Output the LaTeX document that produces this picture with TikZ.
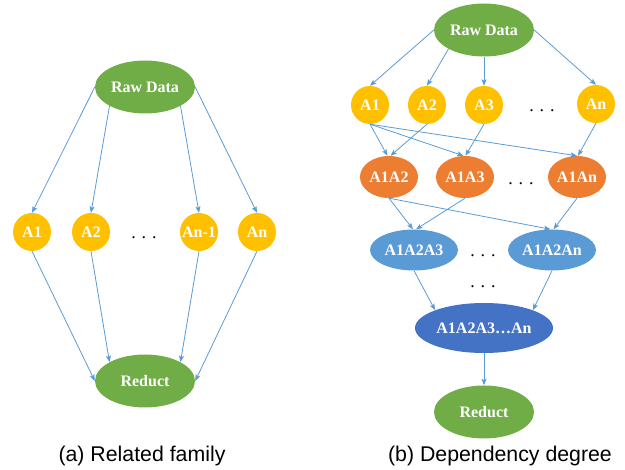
\documentclass[tikz,border=0pt]{standalone}
\usepackage{fontspec}
\setmainfont{Liberation Serif}
\newfontfamily\capfont{Liberation Sans}
\usetikzlibrary{shapes.geometric,arrows.meta}
\definecolor{cgreen}{HTML}{70AD47}
\definecolor{cgold}{HTML}{FFC000}
\definecolor{corange}{HTML}{ED7D31}
\definecolor{clblue}{HTML}{5B9BD5}
\definecolor{cdblue}{HTML}{4472C4}
\definecolor{carrow}{HTML}{5B9BD5}
\begin{document}
\begin{tikzpicture}[x=1pt,y=-1pt,
  nd/.style={inner sep=0pt,text=white,font=\fontsize{16}{18}\selectfont\bfseries},
  grn/.style={nd,ellipse,fill=cgreen,minimum width=100pt,minimum height=53pt},
  att/.style={nd,circle,fill=cgold,minimum size=38pt},
  org/.style={nd,ellipse,fill=corange,minimum width=58pt,minimum height=42pt},
  lbl/.style={nd,ellipse,fill=clblue,minimum width=88pt,minimum height=41pt},
  dbl/.style={nd,ellipse,fill=cdblue,minimum width=138pt,minimum height=50pt},
  dotsn/.style={anchor=base,inner sep=0pt,font=\fontsize{18}{20}\selectfont},
  captxt/.style={anchor=base,inner sep=0pt,font=\capfont\fontsize{21.3}{24}\selectfont},
  arr/.style={draw=carrow,line width=0.8pt,-{Stealth[length=6.5pt,width=5pt,inset=1.5pt]}}
]
\useasboundingbox (0,0) rectangle (625,470);

% ---------- left panel ----------
\node[grn] (lraw) at (145,87) {Raw Data};
\node[att] (la1) at (32,232) {A1};
\node[att] (la2) at (91,232) {A2};
\node[att] (lan1) at (199,232) {An-1};
\node[att] (lan) at (257,232) {An};
\node[dotsn] (ldots) at (144,239) {. . .};
\node[grn] (lred) at (145,381) {Reduct};

\draw[arr] (lraw.west) -- (la1.north);
\draw[arr] (lraw.south west) -- (la2.north);
\draw[arr] (lraw.south east) -- (lan1.north);
\draw[arr] (lraw.east) -- (lan.north);
\draw[arr] (la1.south) -- (lred.west);
\draw[arr] (la2.south) -- (lred.north west);
\draw[arr] (lan1.south) -- (lred.north east);
\draw[arr] (lan.south) -- (lred.east);

\node[captxt] (capa) at (142,462) {(a) Related family};

% ---------- right panel ----------
\node[grn] (rraw) at (484,30) {Raw Data};
\node[att] (ra1) at (370,105) {A1};
\node[att] (ra2) at (427,105) {A2};
\node[att] (ra3) at (484,105) {A3};
\node[dotsn] (rd1) at (542,112) {. . .};
\node[att] (ran) at (596,104) {An};

\node[org] (r12) at (389,177) {A1A2};
\node[org] (r13) at (465,177) {A1A3};
\node[dotsn] (rd2) at (521,185) {. . .};
\node[org] (r1n) at (577,177) {A1An};

\node[lbl] (r123) at (414,250) {A1A2A3};
\node[dotsn] (rd3) at (483,257) {. . .};
\node[lbl] (r12n) at (552,250) {A1A2An};
\node[dotsn] (rd4) at (483,288) {. . .};

\node[dbl] (rall) at (484,328) {A1A2A3…An};
\node[grn] (rred) at (484,412) {Reduct};

\draw[arr] (rraw.west) -- (ra1.north);
\draw[arr] (rraw.south west) -- (ra2.north);
\draw[arr] (rraw.south) -- (ra3.north);
\draw[arr] (rraw.east) -- (ran.north);

\draw[arr] (ra1.south) -- ([xshift=-1.5pt]r12.north);
\draw[arr] (ra2.south) -- ([xshift=1.5pt]r12.north);
\draw[arr] (ra1.south) -- ([xshift=-1.5pt]r13.north);
\draw[arr] (ra3.south) -- ([xshift=0.5pt]r13.north);
\draw[arr] (ra1.south) -- (r1n.north);
\draw[arr] (ran.south) -- ([xshift=1pt]r1n.north);

\draw[arr] (r12.south) -- ([xshift=-1pt]r123.north);
\draw[arr] (r13.south) -- ([xshift=2pt]r123.north);
\draw[arr] (r12.south) -- ([xshift=-1.5pt]r12n.north);
\draw[arr] (r1n.south) -- ([xshift=1.5pt]r12n.north);

\draw[arr] (r123.south) -- (rall.north west);
\draw[arr] (r12n.south) -- (rall.north east);
\draw[arr] (rall.south) -- (rred.north);

\node[captxt] (capb) at (500,462) {(b) Dependency degree};
\end{tikzpicture}
\end{document}
